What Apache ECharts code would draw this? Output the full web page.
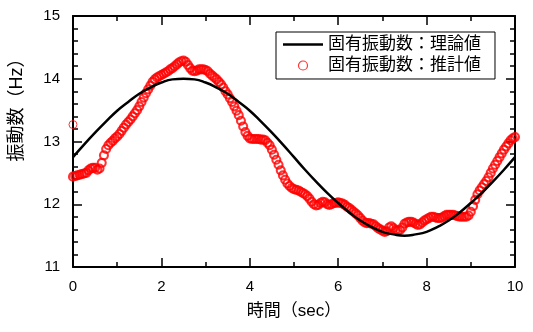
<!DOCTYPE html>
<html>
<head>
<meta charset="utf-8">
<script src="https://cdn.jsdelivr.net/npm/echarts@6/dist/echarts.min.js"></script>
<style>html,body{margin:0;padding:0;background:#fff}#c{width:533px;height:332px}</style>
</head>
<body>
<div id="c"></div>
<script>
// Time axis (sec) for the estimated values, step 0.05
const estTimes = [];
for (let i = 0; i <= 200; i++) estTimes.push(+(i * 0.05).toFixed(2));
// 固有振動数:推計値
const estValues = [
12.44,12.45,12.46,12.47,12.48,12.49,12.50,12.54,12.57,12.58,
12.58,12.55,12.57,12.66,12.78,12.88,12.94,12.98,13.01,13.05,
13.08,13.12,13.17,13.22,13.27,13.31,13.35,13.40,13.45,13.50,
13.56,13.63,13.70,13.77,13.83,13.89,13.95,13.99,14.02,14.04,
14.06,14.08,14.10,14.12,14.15,14.17,14.20,14.23,14.26,14.28,
14.29,14.27,14.22,14.17,14.13,14.12,14.13,14.15,14.15,14.15,
14.14,14.12,14.08,14.05,14.02,13.99,13.95,13.91,13.86,13.80,
13.75,13.69,13.63,13.56,13.49,13.42,13.33,13.24,13.15,13.09,
13.05,13.04,13.04,13.04,13.04,13.03,13.03,13.02,12.98,12.94,
12.87,12.79,12.71,12.63,12.54,12.46,12.39,12.33,12.29,12.26,
12.24,12.23,12.22,12.20,12.18,12.16,12.13,12.09,12.04,12.00,
11.98,11.99,12.02,12.04,12.03,12.00,11.99,12.00,12.02,12.02,
12.03,12.02,12.01,11.99,11.96,11.94,11.91,11.88,11.85,11.82,
11.78,11.74,11.71,11.70,11.70,11.69,11.68,11.65,11.62,11.60,
11.58,11.56,11.57,11.63,11.65,11.62,11.59,11.58,11.59,11.63,
11.69,11.71,11.72,11.72,11.71,11.69,11.67,11.68,11.71,11.74,
11.76,11.78,11.80,11.80,11.79,11.78,11.78,11.79,11.81,11.83,
11.83,11.83,11.83,11.82,11.81,11.80,11.80,11.80,11.80,11.82,
11.88,11.97,12.07,12.16,12.22,12.27,12.32,12.37,12.43,12.50,
12.57,12.63,12.69,12.75,12.81,12.87,12.92,12.97,13.02,13.05,
13.07
];
// isolated estimate at t = 0
const outlierTime = 0;
const outlierValue = 13.27;

// 固有振動数:理論値
const theoTimes = [0,0.25,0.5,0.75,1,1.25,1.5,1.75,2,2.25,2.5,2.75,3,3.25,3.5,3.75,4,4.25,4.5,4.75,5,
  5.25,5.5,5.75,6,6.25,6.5,6.75,7,7.25,7.5,7.75,8,8.25,8.5,8.75,9,9.25,9.5,9.75,10];
const theoValues = [12.75,12.95,13.14,13.32,13.49,13.63,13.76,13.86,13.94,13.99,14.00,13.99,13.94,13.86,13.76,13.63,13.49,13.32,13.14,12.95,12.75,
  12.55,12.36,12.18,12.02,11.87,11.74,11.64,11.56,11.52,11.50,11.52,11.56,11.64,11.74,11.87,12.02,12.18,12.36,12.55,12.75];

const xTicks = [0, 2, 4, 6, 8, 10];
const yTicks = [11, 12, 13, 14, 15];

const nameTheo = '固有振動数：理論値';
const nameEst = '固有振動数：推計値';

const FONT = '"Liberation Sans", Arial, "Noto Sans CJK JP", sans-serif';

const estData = [{value: [outlierTime, outlierValue], itemStyle: {borderWidth: 1}}]
  .concat(estTimes.map((t, i) => [t, estValues[i]]));
const theoData = theoTimes.map((t, i) => [t, theoValues[i]]);

const chart = echarts.init(document.getElementById('c'), null, {renderer: 'canvas'});

const axisLine = {show: true, onZero: false, lineStyle: {color: '#000', width: 2}};
const tick = {show: true, inside: true, length: 9, lineStyle: {color: '#000', width: 1.5}};
const minor = (n) => ({show: true, splitNumber: n, length: 5, lineStyle: {color: '#000', width: 1.5}});

chart.setOption({
  animation: false,
  backgroundColor: '#fff',
  grid: {left: 70, right: 18, top: 16, bottom: 65, containLabel: false},
  legend: {
    orient: 'vertical', left: 276, top: 32,
    padding: [4, 14, 5, 7], itemGap: 4, itemWidth: 40, itemHeight: 9,
    borderColor: '#000', borderWidth: 1, backgroundColor: '#fff', borderRadius: 0,
    textStyle: {fontSize: 17, color: '#000', fontFamily: FONT},
    data: [
      {name: nameTheo, icon: 'path://M0,0 L40,0 L40,2.5 L0,2.5 Z', itemStyle: {color: '#000', borderWidth: 0}},
      {name: nameEst, icon: 'circle', itemStyle: {color: 'transparent', borderColor: '#ff0000', borderWidth: 1.2}}
    ]
  },
  xAxis: [{
    type: 'value', min: xTicks[0], max: xTicks[xTicks.length - 1], interval: 2,
    name: '時間（sec）', nameLocation: 'middle', nameGap: 36,
    nameTextStyle: {fontSize: 17, color: '#000', fontFamily: FONT},
    axisLine, axisTick: tick, minorTick: minor(2), splitLine: {show: false},
    axisLabel: {fontSize: 15, color: '#000', margin: 12, fontFamily: FONT}
  }, {
    type: 'value', position: 'top', min: xTicks[0], max: xTicks[xTicks.length - 1], interval: 2,
    axisLine, axisTick: tick, minorTick: minor(2), splitLine: {show: false},
    axisLabel: {show: false}
  }],
  yAxis: [{
    type: 'value', min: yTicks[0], max: yTicks[yTicks.length - 1], interval: 1,
    name: '振動数（Hz）', nameLocation: 'middle', nameGap: 47, nameRotate: 90,
    nameTextStyle: {fontSize: 18, color: '#000', fontFamily: FONT, padding: [0, 0, 0, 72]},
    axisLine, axisTick: tick, minorTick: minor(5), splitLine: {show: false},
    axisLabel: {fontSize: 15, color: '#000', margin: 13, fontFamily: FONT}
  }, {
    type: 'value', position: 'right', min: yTicks[0], max: yTicks[yTicks.length - 1], interval: 1,
    axisLine, axisTick: tick, minorTick: minor(5), splitLine: {show: false},
    axisLabel: {show: false}
  }],
  series: [{
    name: nameEst, type: 'scatter', data: estData,
    symbol: 'circle', symbolSize: 8,
    itemStyle: {color: 'transparent', borderColor: '#ff0000', borderWidth: 2.1},
    z: 2
  }, {
    name: nameTheo, type: 'line', data: theoData, smooth: true,
    symbol: 'none', showSymbol: false,
    lineStyle: {color: '#000', width: 2.5},
    itemStyle: {color: '#000'},
    z: 3
  }]
});
</script>
</body>
</html>
